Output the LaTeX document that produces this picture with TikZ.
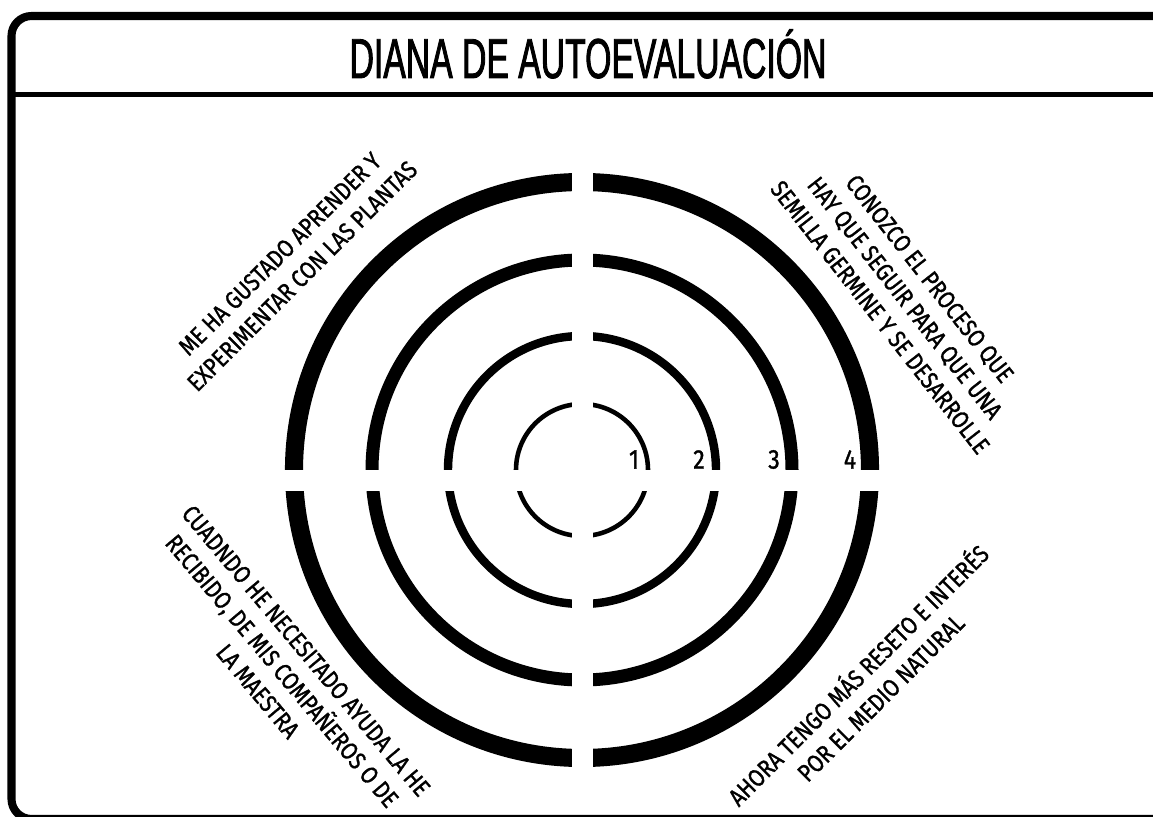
\documentclass[tikz,border=0pt]{standalone}
\usepackage{fontspec}
\newfontfamily\handfont[FakeStretch=0.85, FakeBold=1.2]{Fira Sans}
\newfontfamily\titlefont[FakeStretch=0.6, FakeBold=1.5]{Liberation Sans}

\def\ringCentre{(582,470)}
\colorlet{ring edge}{black}
\colorlet{paper}{white}
\tikzset{
  frame/.style={draw=black, line width=4.6pt, rounded corners=0.4cm},
  rule/.style={draw=black, line width=2.9pt},
  note/.style={align=center, inner sep=0pt, font=\handfont\fontsize{14}{17.9}\selectfont},
  level/.style={inner sep=0pt, font=\handfont\fontsize{15.5}{16}\selectfont}
  }
\tikzstyle{gap} = [fill=paper]

\begin{document}
\begin{tikzpicture}[x=0.02cm, y=-0.02cm]
  \useasboundingbox (0,0) rectangle (1153,817);
  \clip (0,0) rectangle (1153,817);

  % frame and title band
  \draw[frame] (11.5,16) rectangle (1180,819);
  \path[rule] (11.5,94.5) -- (1153,94.5);
  \node[anchor=base, inner sep=0pt, font=\titlefont\fontsize{32}{32}\selectfont]
    (title) at (588,78) {DIANA DE AUTOEVALUACIÓN};

  % the four rings of the target
  \foreach \r/\w in {66/2.6pt, 134/4.8pt, 210/7.4pt, 288/10.3pt} {
    \draw[ring edge, line width=\w] \ringCentre circle (\r);
  }
  \fill[gap] (572,160) rectangle (593,780);
  \fill[gap] (270,470) rectangle (895,491);

  \foreach \x/\n in {634/1, 699/2, 774/3, 850/4} {
    \node[level] (level\n) at (\x,459.5) {\n};
  }

  % statements round the target
  \node[note, rotate=45] (plantas) at (291,265)
    {ME HA GUSTADO APRENDER Y\\EXPERIMENTAR CON LAS PLANTAS};
  \node[note, rotate=-52] (semilla) at (905,298)
    {CONOZCO EL PROCESO QUE\\HAY QUE SEGUIR PARA QUE UNA\\SEMILLA GERMINE Y SE DESARROLLE};
  \node[note, rotate=-50] (ayuda) at (282,671)
    {CUADNDO HE NECESITADO AYUDA LA HE\\RECIBIDO, DE MIS COMPAÑEROS O DE\\LA MAESTRA};
  \node[note, rotate=45] (medio) at (868,685)
    {AHORA TENGO MÁS RESETO E INTERÉS\\POR EL MEDIO NATURAL};
\end{tikzpicture}
\end{document}
